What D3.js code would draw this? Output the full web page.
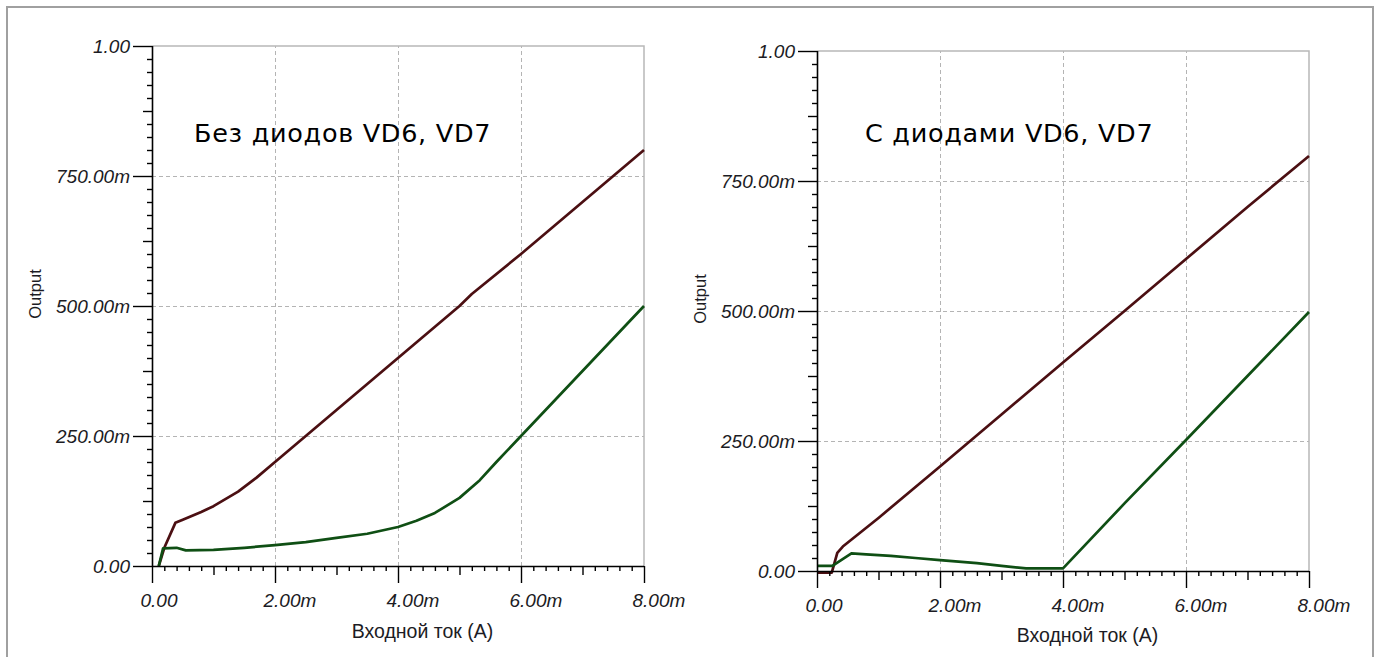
<!DOCTYPE html>
<html>
<head>
<meta charset="utf-8">
<script src="https://cdn.jsdelivr.net/npm/d3@7"></script>
<style>
  html, body { margin: 0; padding: 0; background: #fff; }
  svg { display: block; }
  .tick text { font-family: "Liberation Sans", Arial, sans-serif; font-style: italic; font-size: 19px; fill: #1c1c24; }
</style>
</head>
<body>
<svg id="chart" width="1380" height="657"></svg>
<script>
// ---- data (x in mA, y in V) ----
const xTickValues = [0, 2, 4, 6, 8];
const xTickLabels = ["0.00", "2.00m", "4.00m", "6.00m", "8.00m"];
const yTickValues = [0, 0.25, 0.5, 0.75, 1.0];
const yTickLabels = ["0.00", "250.00m", "500.00m", "750.00m", "1.00"];

const panelTitles = ["Без диодов VD6, VD7", "С диодами VD6, VD7"];
const xAxisTitle = "Входной ток (A)";
const yAxisTitle = "Output";

// left panel (without diodes)
const leftRedX   = [0.11, 0.2, 0.38, 0.5, 0.8, 1.0, 1.4, 1.7, 2.0, 3.0, 4.0, 5.0, 5.2, 6.0, 7.0, 8.0];
const leftRedY   = [0.0, 0.035, 0.083, 0.089, 0.104, 0.115, 0.143, 0.170, 0.200, 0.300, 0.400, 0.500, 0.523, 0.600, 0.700, 0.800];
const leftGreenX = [0.11, 0.18, 0.4, 0.55, 1.0, 1.5, 2.0, 2.5, 3.0, 3.5, 4.0, 4.3, 4.6, 5.0, 5.33, 5.6, 6.0, 7.0, 8.0];
const leftGreenY = [0.0, 0.034, 0.035, 0.030, 0.031, 0.035, 0.040, 0.046, 0.054, 0.062, 0.075, 0.087, 0.102, 0.131, 0.165, 0.200, 0.250, 0.375, 0.500];

// right panel (with diodes)
const rightRedX   = [0.0, 0.24, 0.33, 0.42, 1.0, 2.0, 3.0, 4.0, 5.0, 6.0, 7.0, 8.0];
const rightRedY   = [-0.003, -0.003, 0.035, 0.047, 0.102, 0.201, 0.301, 0.401, 0.500, 0.600, 0.700, 0.798];
const rightGreenX = [0.0, 0.25, 0.56, 0.8, 1.2, 1.6, 2.0, 2.6, 3.0, 3.4, 4.0, 5.0, 6.0, 7.0, 8.0];
const rightGreenY = [0.010, 0.010, 0.034, 0.032, 0.029, 0.025, 0.021, 0.015, 0.010, 0.005, 0.005, 0.130, 0.252, 0.375, 0.498];

const seriesColors = ["#4b0f12", "#0f4f14"];

// ---- layout ----
const panels = [
  { x0: 152, x1: 644, y0: 566, y1: 46, title: panelTitles[0], titleX: 194, titleY: 142,
    yTitleX: 41, yTitleY: 294, xTitleY: 638,
    series: [[leftRedX, leftRedY], [leftGreenX, leftGreenY]] },
  { x0: 817, x1: 1309, y0: 571, y1: 51, title: panelTitles[1], titleX: 865, titleY: 142,
    yTitleX: 706, yTitleY: 299, xTitleY: 642,
    series: [[rightRedX, rightRedY], [rightGreenX, rightGreenY]] }
];

const svg = d3.select("#chart");

// outer frame
svg.append("rect")
  .attr("x", 7).attr("y", 7).attr("width", 1366).attr("height", 720)
  .attr("fill", "none").attr("stroke", "#a0a0a0").attr("stroke-width", 2);

panels.forEach(p => {
  const x = d3.scaleLinear().domain([0, 8]).range([p.x0, p.x1]);
  const y = d3.scaleLinear().domain([0, 1]).range([p.y0, p.y1]);
  const g = svg.append("g");

  // grid
  g.append("g").selectAll("line").data([2, 4, 6]).join("line")
    .attr("x1", d => x(d)).attr("x2", d => x(d))
    .attr("y1", p.y0).attr("y2", p.y1)
    .attr("stroke", "#b4b4b4").attr("stroke-width", 1).attr("stroke-dasharray", "4,3")
    .attr("shape-rendering", "crispEdges");
  g.append("g").selectAll("line").data([0.25, 0.5, 0.75]).join("line")
    .attr("x1", p.x0).attr("x2", p.x1)
    .attr("y1", d => y(d)).attr("y2", d => y(d))
    .attr("stroke", "#b4b4b4").attr("stroke-width", 1).attr("stroke-dasharray", "4,3")
    .attr("shape-rendering", "crispEdges");

  // top & right borders
  g.append("path")
    .attr("d", `M${p.x0},${p.y1}H${p.x1}V${p.y0}`)
    .attr("fill", "none").attr("stroke", "#b8b8b8").attr("stroke-width", 1.5);

  // series
  const line = d3.line().x(d => x(d[0])).y(d => y(d[1]));
  p.series.forEach((s, i) => {
    const pts = s[0].map((v, k) => [v, s[1][k]]);
    g.append("path").datum(pts).attr("d", line)
      .attr("fill", "none").attr("stroke", seriesColors[i]).attr("stroke-width", 2.7)
      .attr("stroke-linejoin", "round");
  });

  // minor ticks x
  const xSmall = d3.range(0, 41).map(k => k * 0.2).filter((v, k) => k % 5 !== 0);
  const xMid = [1, 3, 5, 7];
  g.append("g").attr("transform", `translate(0,${p.y0})`)
    .call(d3.axisBottom(x).tickValues(xSmall).tickSize(5).tickFormat(""))
    .call(a => a.select(".domain").remove());
  g.append("g").attr("transform", `translate(0,${p.y0})`)
    .call(d3.axisBottom(x).tickValues(xMid).tickSize(9).tickFormat(""))
    .call(a => a.select(".domain").remove());
  // minor ticks y
  const ySmall = d3.range(0, 40).map(k => k * 0.025).filter((v, k) => k % 5 !== 0);
  const yMid = [0.125, 0.375, 0.625, 0.875];
  g.append("g").attr("transform", `translate(${p.x0},0)`)
    .call(d3.axisLeft(y).tickValues(ySmall).tickSize(5).tickFormat(""))
    .call(a => a.select(".domain").remove());
  g.append("g").attr("transform", `translate(${p.x0},0)`)
    .call(d3.axisLeft(y).tickValues(yMid).tickSize(9).tickFormat(""))
    .call(a => a.select(".domain").remove());

  // major axes
  const xa = g.append("g").attr("transform", `translate(0,${p.y0})`)
    .call(d3.axisBottom(x).tickValues(xTickValues).tickSize(17)
      .tickFormat((d, i) => xTickLabels[i]));
  xa.select(".domain").attr("d", `M${p.x0},0.5H${p.x1}`).attr("stroke", "#000").attr("stroke-width", 1.6);
  xa.selectAll(".tick text").attr("text-anchor", "start").attr("x", -12).attr("y", 41).attr("dy", null);

  const ya = g.append("g").attr("transform", `translate(${p.x0},0)`)
    .call(d3.axisLeft(y).tickValues(yTickValues).tickSize(19)
      .tickFormat((d, i) => yTickLabels[i]));
  ya.select(".domain").attr("d", `M0.5,${p.y1}V${p.y0}`).attr("stroke", "#000").attr("stroke-width", 1.6);
  ya.selectAll(".tick text").attr("x", -22).attr("dy", "0.35em");

  g.selectAll(".tick line").attr("stroke", "#000").attr("stroke-width", 1.4);

  // titles
  g.append("text").attr("x", p.titleX).attr("y", p.titleY)
    .attr("font-family", "'DejaVu Sans', Verdana, sans-serif").attr("font-size", 25.5)
    .attr("letter-spacing", 0.7)
    .attr("fill", "#000").text(p.title);
  g.append("text").attr("x", (p.x0 + p.x1) / 2 + 24.5).attr("y", p.xTitleY)
    .attr("text-anchor", "middle")
    .attr("font-family", "'Liberation Sans', Arial, sans-serif").attr("font-size", 19.5)
    .attr("fill", "#1c1c24").text(xAxisTitle);
  g.append("text")
    .attr("transform", `translate(${p.yTitleX},${p.yTitleY}) rotate(-90)`)
    .attr("text-anchor", "middle")
    .attr("font-family", "'Liberation Sans', Arial, sans-serif").attr("font-size", 16.5)
    .attr("fill", "#1c1c24").text(yAxisTitle);
});
</script>
</body>
</html>
